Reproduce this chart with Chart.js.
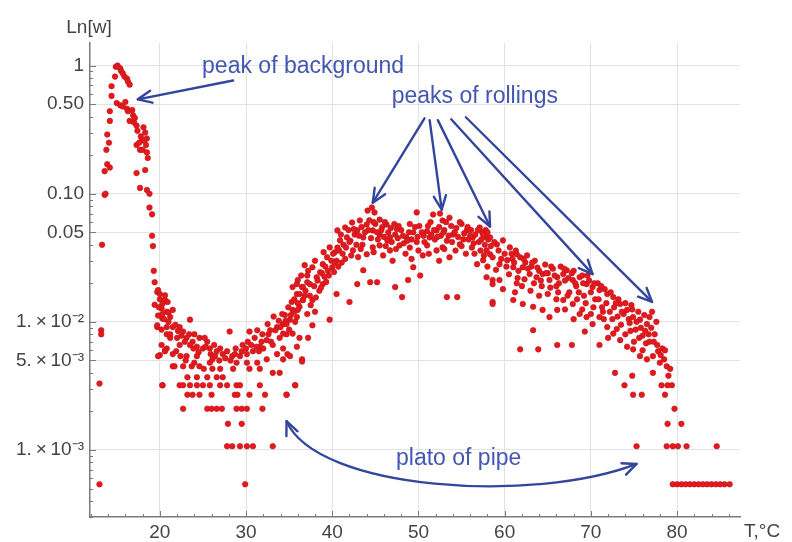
<!DOCTYPE html>
<html><head><meta charset="utf-8">
<script src="https://cdn.jsdelivr.net/npm/chart.js@4/dist/chart.umd.min.js"></script>
<style>html,body{margin:0;padding:0;background:#fff;}#wrap{width:792px;height:542px;}</style>
</head><body><div id="wrap"><canvas id="c" width="792" height="542"></canvas></div>
<script>
const xTicks = [20,30,40,50,60,70,80];
const yTicks = [0.001,0.005,0.01,0.05,0.1,0.5,1];
const yTickLabels = ['1.\u2009×\u200910⁻³','5.\u2009×\u200910⁻³','1.\u2009×\u200910⁻²','0.05','0.10','0.50','1'];
const xTitle = 'T,°C';
const yTitle = 'Ln[w]';

const backgroundPeak = [[13.0,0.00054],[13.0,0.0033],[13.2,0.0086],[13.2,0.0080],[13.3,0.040],[13.6,0.098],[13.7,0.10],[13.6,0.15],[13.9,0.17],[14.2,0.16],[13.8,0.22],[14.1,0.25],[13.9,0.29],[14.2,0.37],[14.2,0.44],[14.4,0.58],[14.4,0.69],[14.8,0.82],[14.9,0.98],[15.1,1.0],[15.4,0.95],[15.5,0.91],[15.7,0.87],[15.9,0.82],[16.2,0.79],[16.3,0.75],[16.5,0.71],[15.0,0.51],[15.4,0.49],[15.7,0.48],[16.0,0.52],[16.2,0.46],[16.3,0.44],[16.8,0.45],[16.9,0.41],[17.0,0.36],[17.1,0.39],[16.5,0.37],[17.3,0.34],[17.4,0.31],[18.1,0.33],[18.3,0.30],[18.5,0.27],[17.8,0.28],[17.9,0.26],[18.2,0.26],[17.3,0.24],[17.6,0.25],[18.4,0.24],[17.7,0.22],[18.0,0.22],[18.5,0.21],[18.6,0.19],[18.3,0.153],[17.3,0.145],[17.7,0.111],[18.5,0.107],[18.8,0.10],[18.8,0.078],[19.1,0.069],[19.1,0.047],[19.2,0.039],[19.3,0.025],[19.4,0.0204],[19.7,0.0171]];

const valley = [[20.0,0.0150],[20.6,0.0148],[19.4,0.0136],[20.2,0.0127],[20.8,0.0120],[19.8,0.0112],[20.3,0.0106],[19.7,0.0091],[20.2,0.0087],[20.8,0.0080],[21.2,0.0075],[20.2,0.0066],[20.8,0.0062],[20.0,0.0055],[20.6,0.0060],[20.3,0.0032],[21.5,0.0045],[19.8,0.0177],[20.0,0.0165],[20.6,0.0161],[20.3,0.0138],[20.9,0.0143],[21.5,0.0124],[20.3,0.0115],[21.2,0.0109],[23.5,0.0104],[19.7,0.0094],[20.8,0.0091],[21.5,0.0091],[22.3,0.0091],[22.7,0.0084],[21.2,0.0080],[22.0,0.0075],[23.1,0.0075],[23.8,0.0070],[24.6,0.0075],[25.5,0.0070],[22.3,0.0066],[23.5,0.0066],[24.3,0.0064],[25.0,0.0062],[25.8,0.0062],[26.6,0.0059],[27.3,0.0056],[28.1,0.0084],[28.4,0.0054],[29.3,0.0054],[30.4,0.0084],[31.3,0.0086],[31.9,0.0080],[32.8,0.0086],[33.6,0.0091],[34.3,0.0096],[35.1,0.0104],[35.9,0.0109],[35.4,0.0124],[36.2,0.0131],[36.6,0.0148],[35.9,0.0165],[36.5,0.0187],[37.1,0.0204],[35.9,0.0197],[32.4,0.0072],[33.1,0.0066],[33.9,0.0075],[34.7,0.0080],[31.6,0.0064],[30.8,0.0059],[30.1,0.0056],[28.9,0.0048],[30.1,0.0048],[31.3,0.0048],[32.4,0.0051],[33.6,0.0056],[34.3,0.0062],[34.8,0.0056],[36.5,0.0051],[30.4,0.0043],[31.6,0.0043],[33.1,0.0040],[33.9,0.0040],[28.5,0.0043],[27.0,0.0043],[25.8,0.0048],[24.6,0.0045],[23.7,0.0045],[22.7,0.0045],[21.7,0.0045],[19.8,0.0054],[20.6,0.0059],[21.5,0.0056],[23.1,0.0054],[24.3,0.0054],[26.1,0.0051],[27.3,0.0037],[26.6,0.0037],[25.5,0.0037],[24.3,0.0037],[23.2,0.0037],[26.1,0.0043],
[20.3,0.0032],[22.3,0.0032],[22.7,0.0032],[23.5,0.0032],[24.3,0.0032],[25.0,0.0032],[25.8,0.0032],[27.0,0.0032],[27.8,0.0032],[28.9,0.0032],[29.3,0.0032],[31.6,0.0032],[35.7,0.0032],
[23.2,0.0027],[23.8,0.0027],[24.6,0.0027],[26.0,0.0027],[28.7,0.0027],[29.0,0.0027],[30.4,0.0027],[32.2,0.0027],[34.7,0.0027],
[22.7,0.0021],[25.5,0.0021],[26.0,0.0021],[26.6,0.0021],[27.2,0.0021],[28.9,0.0021],[29.5,0.0021],[30.1,0.0021],[31.9,0.0021],
[27.9,0.0016],[29.5,0.0016],
[27.8,0.00107],[28.4,0.00107],[29.3,0.00107],[30.1,0.00107],[30.8,0.00107],[33.1,0.00107],
[29.9,0.00054],
[24.0,0.0080],[25.2,0.0075],[26.3,0.0066],[27.0,0.0062],[27.8,0.0059],[28.8,0.0062],[29.6,0.0066],[30.2,0.0070],[31.0,0.0075],[31.8,0.0070],[32.6,0.0080],[33.4,0.0086],[34.0,0.0091],[34.6,0.0102],[35.2,0.0113],[35.6,0.0120],[36.0,0.0140],[36.8,0.0160],
[21.0,0.0100],[21.8,0.0095],[22.1,0.0085],[22.5,0.0078],[22.9,0.0070],[23.4,0.0080],[23.9,0.0062],[24.5,0.0058],[25.3,0.0064],[25.9,0.0056],[26.4,0.0054],[26.9,0.0050],[27.6,0.0052],[28.2,0.0050],[28.7,0.0056],[29.5,0.0059],[30.0,0.0062],[30.6,0.0066],[31.2,0.0064],[31.5,0.0059],[32.0,0.0062],[32.9,0.0070],[21.9,0.0059],[22.4,0.0054],[23.0,0.0050],[24.0,0.0048],[25.1,0.0043],[19.9,0.0130],[20.5,0.0105],[21.0,0.0118]];

const hump = [[34.7,0.0027],[35.7,0.0032],[36.5,0.0049],[35.1,0.0054],[34.3,0.0051],[35.9,0.0064],[36.2,0.0075],[37.2,0.0075],[35.4,0.0081],[34.3,0.0081],[34.7,0.0096],[35.7,0.0100],[37.1,0.0115],[38.0,0.0120],[37.7,0.0094],[39.7,0.0104],[34.5,0.0113],[36.0,0.0124],[35.3,0.0143],[36.6,0.0148],[37.7,0.0148],[35.4,0.0187],[36.6,0.0187],[37.4,0.0197],[36.0,0.0212],[37.1,0.0230],[38.2,0.0223],[38.9,0.0197],[38.6,0.0244],[36.8,0.0277],[37.7,0.0267],[38.9,0.0282],[39.4,0.0319],[40.0,0.0267],[40.3,0.0349],[39.7,0.0381],[40.5,0.0165],[42.0,0.0143],[42.9,0.0197],[43.6,0.0253],[44.4,0.0204],[45.2,0.0204],[40.9,0.0432],[41.7,0.0456],[40.6,0.0517],[41.5,0.0545],[42.3,0.0596],[42.9,0.0517],[43.2,0.0618],[44.1,0.0738],[44.9,0.0715],[45.5,0.0628],[44.0,0.0575],[43.6,0.0456],[44.7,0.0517],[45.5,0.0481],[46.3,0.0575],[46.7,0.0456],[47.5,0.0530],[47.8,0.0395],[48.6,0.0456],[47.3,0.0187],[48.1,0.0156],[48.8,0.0212],[49.4,0.0267],[49.2,0.0310],[49.8,0.0715],[50.2,0.0230],[51.7,0.0688],[51.3,0.0456],[52.1,0.0517],[52.8,0.0618],[53.6,0.0650],[54.0,0.0481],[53.3,0.0156],[54.5,0.0156],[54.8,0.0402],[55.6,0.0517],[56.3,0.0456],[57.1,0.0545],[57.9,0.0456],[58.3,0.0337],[57.5,0.0303],[56.8,0.0282],[58.6,0.0143],[58.6,0.0212],[51.0,0.0395],[52.1,0.0361],[52.8,0.0381],[53.6,0.0319],[46.7,0.0361],[45.5,0.0395],[44.7,0.0381],[44.0,0.0337],[42.4,0.0361],[41.5,0.0310],
[41.0,0.048],[41.3,0.040],[41.9,0.052],[42.1,0.043],[42.6,0.048],[42.8,0.040],[43.4,0.055],[43.8,0.050],[44.3,0.062],[44.5,0.045],[45.0,0.058],[45.2,0.050],[45.8,0.055],[46.0,0.046],[46.5,0.050],[46.9,0.042],[47.2,0.058],[47.6,0.045],[48.0,0.052],[48.3,0.041],[48.9,0.050],[49.2,0.044],[49.6,0.055],[49.9,0.046],[50.4,0.050],[50.7,0.042],[51.1,0.056],[51.5,0.048],[51.9,0.044],[52.4,0.055],[52.6,0.047],[53.0,0.052],[53.3,0.043],[53.8,0.056],[54.2,0.050],[54.6,0.046],[55.0,0.058],[55.3,0.049],[55.8,0.044],[56.1,0.052],[56.6,0.048],[57.0,0.042],[57.4,0.050],[57.8,0.052],[58.1,0.044],[44.6,0.078],[52.5,0.070],
[40.5,0.030],[41.2,0.034],[43.0,0.032],[45.9,0.033],[47.0,0.030],[48.5,0.034],[50.5,0.033],[52.4,0.030],[54.3,0.036],[55.5,0.034],[56.2,0.038],[57.2,0.036],
[36.2,0.0165],[36.9,0.0175],[37.4,0.0160],[37.9,0.0190],[38.3,0.0210],[38.5,0.0175],[38.8,0.0240],[39.1,0.0225],[39.2,0.0270],[39.5,0.0250],[39.9,0.0300],[40.1,0.0340],[40.3,0.0290],[40.6,0.0380],[40.8,0.0360],[39.0,0.0350],[38.0,0.0300],[37.2,0.0250],[36.4,0.0230],[35.6,0.0150],[34.9,0.0130],[34.2,0.0115],[35.0,0.0087],[33.8,0.0102],[33.2,0.0110],[32.5,0.0096],
[37.5,0.0135],[38.1,0.0155],[38.7,0.0185],[39.3,0.0205],[39.6,0.0230],[40.2,0.0245],[40.7,0.0270],[41.1,0.0290],[41.6,0.0380],[42.0,0.0420],[42.5,0.0530],[43.1,0.0470],[43.5,0.0400],[44.2,0.0520],[44.8,0.0600],[45.3,0.0440],[45.7,0.0520],[46.1,0.0600],[46.4,0.0430],[46.8,0.0540],[47.3,0.0480],[47.7,0.0560],[48.2,0.0470],[48.7,0.0430],[49.0,0.0580],[49.4,0.0500],[49.8,0.0420],[50.1,0.0560],[50.6,0.0470],[51.0,0.0510],[51.4,0.0600],[51.8,0.0520],[52.2,0.0460],[52.9,0.0500],[53.2,0.0600],[53.5,0.0470],[53.9,0.0420],[54.4,0.0540],[54.8,0.0600],[55.2,0.0440],[55.7,0.0550],[56.0,0.0470],[56.4,0.0410],[56.9,0.0520],[57.3,0.0440],[57.7,0.0400],[58.0,0.0500],[58.4,0.0390],
[42.2,0.0330],[43.3,0.0370],[44.8,0.0350],[46.2,0.0390],[47.4,0.0370],[49.0,0.0380],[50.0,0.0360],[51.2,0.0340],[53.0,0.0370],[55.0,0.0390],[56.5,0.0340],[57.6,0.0330]];

const decline = [[57.5,0.048],[58.3,0.0456],[59.1,0.0402],[59.8,0.0432],[60.6,0.0381],[61.4,0.0337],[61.8,0.0319],[57.9,0.0361],[58.6,0.0319],[59.4,0.0282],[60.3,0.0303],[61.0,0.0267],[62.1,0.0267],[62.9,0.0236],[63.7,0.0223],[64.4,0.0236],[65.2,0.0212],[66.1,0.0223],[66.8,0.0236],[67.2,0.0253],[67.9,0.0212],[68.7,0.0223],[69.5,0.0197],[70.2,0.0187],[71.0,0.0177],[71.9,0.0165],[72.6,0.0156],[73.4,0.0138],[74.2,0.0124],[74.9,0.0109],[75.7,0.0104],[76.5,0.0096],[76.8,0.0109],[77.1,0.0120],[58.6,0.0197],[57.9,0.0223],[59.4,0.0212],[61.0,0.0148],[62.1,0.0138],[63.3,0.0131],[64.4,0.0124],[65.2,0.0109],[66.1,0.0124],[66.8,0.0148],[67.9,0.0138],[68.7,0.0115],[69.5,0.0109],[70.2,0.0096],[71.0,0.0109],[71.9,0.0091],[72.6,0.0081],[73.4,0.0072],[74.2,0.0064],[74.9,0.0061],[75.7,0.0054],[76.5,0.0051],[77.2,0.0054],[78.0,0.0048],[78.8,0.0045],[79.2,0.0043],[58.6,0.0138],[63.3,0.0086],[61.8,0.0061],[63.9,0.0061],[66.1,0.0066],[67.8,0.0066],[69.3,0.0084],[71.0,0.0066],[72.8,0.0040],[73.9,0.0032],[74.8,0.0038],[74.9,0.0027],[75.9,0.0027],[77.2,0.0040],[77.7,0.0066],[78.2,0.0032],[78.9,0.0032],[78.6,0.0027],[79.7,0.0021],[78.9,0.0016],[80.5,0.0016],
[60.0,0.034],[60.9,0.031],[61.3,0.036],[62.4,0.029],[62.6,0.033],[63.1,0.027],[63.5,0.030],[64.0,0.025],[64.7,0.028],[65.0,0.024],[65.6,0.026],[66.0,0.019],[66.5,0.027],[67.0,0.021],[67.5,0.017],[68.0,0.025],[68.3,0.019],[69.0,0.023],[69.2,0.016],[69.8,0.021],[70.5,0.015],[70.8,0.020],[71.3,0.013],[71.6,0.018],[72.2,0.012],[72.9,0.014],[73.1,0.011],[73.8,0.0115],[74.5,0.0098],[74.7,0.0135],[75.2,0.0087],[75.5,0.0120],[76.0,0.0078],[76.2,0.0113],[76.8,0.0070],[77.0,0.0090],[77.4,0.0080],[77.8,0.0059],[78.3,0.0062],[78.5,0.0051],[79.0,0.0038],[79.4,0.0032],[60.5,0.0235],[61.5,0.022],[62.0,0.019],[63.0,0.0175],[64.0,0.016],[65.0,0.0165],[66.0,0.015],[67.0,0.0125],[68.0,0.0105],[69.0,0.0125],[70.0,0.0115],[71.5,0.0105],[72.0,0.0075],[73.0,0.0088],[74.0,0.0080],[75.0,0.0070],[76.0,0.0060],[59.0,0.0255],[58.0,0.027],[59.8,0.018],[61.2,0.017],
[58.8,0.0420],[59.3,0.0360],[59.6,0.0310],[60.2,0.0270],[60.8,0.0340],[61.1,0.0290],[61.6,0.0250],[62.2,0.0310],[62.7,0.0260],[63.2,0.0290],[63.8,0.0265],[64.2,0.0210],[64.8,0.0240],[65.4,0.0270],[65.8,0.0230],[66.3,0.0200],[66.9,0.0260],[67.4,0.0220],[67.8,0.0240],[68.2,0.0200],[68.6,0.0170],[69.1,0.0200],[69.6,0.0230],[70.0,0.0170],[70.4,0.0200],[70.9,0.0150],[71.2,0.0190],[71.8,0.0140],[72.3,0.0170],[72.7,0.0130],[73.2,0.0150],[73.6,0.0120],[74.0,0.0140],[74.4,0.0105],[74.8,0.0125],[75.3,0.0100],[75.8,0.0090],[76.3,0.0085],[76.7,0.0080],[77.3,0.0070],[77.6,0.0100],[78.1,0.0055],[78.6,0.0060],[75.6,0.0075],[76.4,0.0068],[74.6,0.0085],[73.5,0.0095],[72.5,0.0105],[71.4,0.0120],[70.3,0.0130],[69.4,0.0140],[68.4,0.0150],[67.3,0.0160],[66.2,0.0170],[65.3,0.0185],[64.3,0.0190],[63.4,0.0200],[62.3,0.0215],[61.4,0.0200]];

const tail = [[75.3,0.00107],[78.8,0.00107],[79.5,0.00107],[80.1,0.00107],[81.1,0.00107],[84.6,0.00107],[79.5,0.00054],[80.0,0.00054],[80.5,0.00054],[81.0,0.00054],[81.5,0.00054],[82.0,0.00054],[82.5,0.00054],[83.0,0.00054],[83.5,0.00054],[84.0,0.00054],[84.5,0.00054],[85.0,0.00054],[85.5,0.00054],[86.1,0.00054]];

const annotationTexts = [
  {text:'peak of background', x:24.9, y:0.98},
  {text:'peaks of rollings', x:46.9, y:0.575},
  {text:'plato of pipe', x:47.4, y:0.00085}
];
const straightArrows = [
  [[28.5,0.765],[17.45,0.545]],
  [[50.7,0.388],[44.7,0.0851]],
  [[51.3,0.375],[52.7,0.0752]],
  [[52.25,0.375],[58.3,0.0555]],
  [[53.8,0.381],[70.2,0.0236]],
  [[55.5,0.395],[77.1,0.0143]]
];
const curvedArrow = [[34.7,0.00168],[38.2,0.00048],[63.5,0.00038],[75.3,0.000778]];

const allPoints = [].concat(backgroundPeak, valley, hump, decline, tail).map(p=>({x:p[0], y:p[1]}));

const FONT = '"Liberation Sans", Arial, sans-serif';

const annotPlugin = {
  id:'annot',
  afterDraw(chart){
    const {ctx, chartArea:a, scales:{x, y}} = chart;
    const P = (p)=>[x.getPixelForValue(p[0]), y.getPixelForValue(p[1])];
    ctx.save();
    ctx.strokeStyle = '#7a7a7a'; ctx.lineWidth = 1;
    for (let v = 12; v <= 86; v += 2) {
      const px = Math.round(x.getPixelForValue(v)) + 0.5;
      const len = (v % 10 === 0) ? 6 : 3;
      ctx.beginPath(); ctx.moveTo(px, a.bottom); ctx.lineTo(px, a.bottom - len); ctx.stroke();
    }
    for (let d = -4; d <= 0; d++) {
      for (let m = 1; m <= 9; m++) {
        const v = m * Math.pow(10, d);
        if (v < y.min || v > y.max) continue;
        const py = Math.round(y.getPixelForValue(v)) + 0.5;
        const major = yTicks.includes(+v.toPrecision(3));
        const len = major ? 6 : 3;
        ctx.beginPath(); ctx.moveTo(a.left, py); ctx.lineTo(a.left + len, py); ctx.stroke();
      }
    }
    ctx.fillStyle = '#444';
    ctx.font = '19px ' + FONT;
    ctx.textBaseline = 'middle';
    ctx.textAlign = 'center';
    ctx.fillText(yTitle, a.left - 1, a.top - 15);
    ctx.textAlign = 'left';
    ctx.fillText(xTitle, a.right + 4, a.bottom + 15);
    ctx.fillStyle = '#4356b2';
    ctx.font = '23px ' + FONT;
    ctx.textAlign = 'left';
    annotationTexts.forEach(t => { const [px, py] = P([t.x, t.y]); ctx.fillText(t.text, px, py); });
    ctx.strokeStyle = '#33459c'; ctx.lineWidth = 2.4; ctx.lineCap = 'round'; ctx.lineJoin = 'round';
    const head = (tx, ty, fx, fy) => {
      const ang = Math.atan2(ty - fy, tx - fx), L = 15, s = 0.42;
      ctx.beginPath();
      ctx.moveTo(tx - L * Math.cos(ang - s), ty - L * Math.sin(ang - s));
      ctx.lineTo(tx, ty);
      ctx.lineTo(tx - L * Math.cos(ang + s), ty - L * Math.sin(ang + s));
      ctx.stroke();
    };
    straightArrows.forEach(([s, e]) => {
      const [x0, y0] = P(s), [x1, y1] = P(e);
      ctx.beginPath(); ctx.moveTo(x0, y0); ctx.lineTo(x1, y1); ctx.stroke();
      head(x1, y1, x0, y0);
    });
    const [c0, c1, c2, c3] = curvedArrow.map(P);
    ctx.beginPath(); ctx.moveTo(c0[0], c0[1]);
    ctx.bezierCurveTo(c1[0], c1[1], c2[0], c2[1], c3[0], c3[1]); ctx.stroke();
    head(c0[0], c0[1], c1[0], c1[1]);
    head(c3[0], c3[1], c2[0], c2[1]);
    ctx.restore();
  }
};

new Chart(document.getElementById('c'), {
  type:'scatter',
  data:{ datasets:[{ data: allPoints, pointRadius:2.8, pointHoverRadius:2.8, backgroundColor:'#e3191e', borderColor:'#c01519', borderWidth:0.6 }]},
  options:{
    responsive:false, animation:false, devicePixelRatio:1,
    layout:{ padding:{ top:43, right:52, left:0, bottom:0 } },
    plugins:{ legend:{display:false}, tooltip:{enabled:false} },
    scales:{
      x:{ type:'linear', min:11.9, max:87.3,
        afterBuildTicks: s => { s.ticks = xTicks.map(v => ({value:v})); },
        afterFit: s => { s.height = 25; },
        grid:{ color:'#e2e2e2', lineWidth:1, drawTicks:false },
        border:{ color:'#7a7a7a', width:1.5 },
        ticks:{ font:{ family:FONT, size:19 }, color:'#444', padding:4, maxRotation:0, callback: v => String(v) } },
      y:{ type:'logarithmic', min:0.00032, max:1.5,
        afterBuildTicks: s => { s.ticks = yTicks.map(v => ({value:v})); },
        afterFit: s => { s.width = 90; },
        grid:{ color:'#e2e2e2', lineWidth:1, drawTicks:false },
        border:{ color:'#7a7a7a', width:1.5 },
        ticks:{ font:{ family:FONT, size:19 }, color:'#444', padding:6,
          callback: (v) => { const i = yTicks.findIndex(t => Math.abs(t - v) / t < 1e-6); return i >= 0 ? yTickLabels[i] : ''; } } }
    }
  },
  plugins:[annotPlugin]
});
</script></body></html>
